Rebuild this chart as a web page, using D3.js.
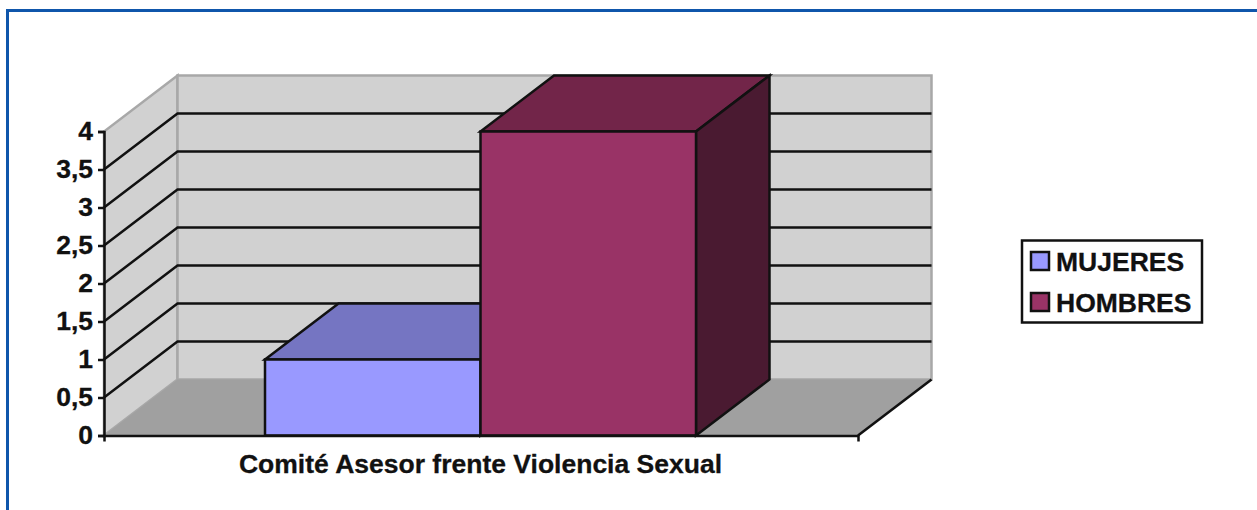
<!DOCTYPE html>
<html><head><meta charset="utf-8">
<script src="https://cdn.jsdelivr.net/npm/d3@7/dist/d3.min.js"></script>
<style>html,body{margin:0;padding:0;background:#fff}svg{display:block}text{font-family:"Liberation Sans",Arial,sans-serif;font-weight:700;fill:#111;stroke:#111;stroke-width:0.3px}</style>
</head><body><svg id="c" width="1257" height="510"></svg>
<script>
const categories = ["Comité Asesor frente Violencia Sexual"];
const seriesNames = ["MUJERES","HOMBRES"];
const seriesValues = [1,4];
const frontColors = ["#9999ff","#993366"];
const topColors = ["#7575c2","#722549"];
const sideColors = ["#5a5a99","#4a1a31"];
const yTicks = [0,0.5,1,1.5,2,2.5,3,3.5,4];

const svg = d3.select("#c");
const dx = 73.5, dy = -56;
const y = d3.scaleLinear().domain([0,4]).range([435.5,131.5]);
const x = d3.scaleBand().domain(categories).range([104,858]);
const inner = d3.scaleBand().domain(seriesNames).range([x(categories[0])+161, x(categories[0])+592]);
const line = d3.line();
const back = ([a,b]) => [a+dx,b+dy];
const poly = (pts,fill,stroke,sw) => svg.append("path").attr("d",line(pts)+"Z").attr("fill",fill).attr("stroke",stroke||"none").attr("stroke-width",sw||0).attr("stroke-linejoin","miter");

// frame
svg.append("path").attr("d","M7.5,510V10.5H1257").attr("fill","none").attr("stroke","#0f56ab").attr("stroke-width",3);

const x0=x.range()[0], x1=x.range()[1], yb=y(0), yt=y(4);
// walls
poly([[x0,yb],[x0,yt],back([x0,yt]),back([x0,yb])],"#d1d1d1","#a8a8a8",2.5);
poly([back([x0,yb]),back([x0,yt]),back([x1,yt]),back([x1,yb])],"#d1d1d1","#a8a8a8",2.5);
poly([[x0,yb],back([x0,yb]),back([x1,yb]),[x1,yb]],"#a0a0a0");

// gridlines
yTicks.filter(t=>t>0&&t<4).forEach(t=>{
  svg.append("path").attr("d",line([[x0,y(t)],back([x0,y(t)]),back([x1,y(t)])])).attr("fill","none").attr("stroke","#111").attr("stroke-width",2.5);
});
// right floor edge
svg.append("path").attr("d",line([[x1,yb],back([x1,yb])])).attr("stroke","#111").attr("stroke-width",2.5);

// bars
seriesNames.forEach((s,i)=>{
  const l=inner(s), r=l+inner.bandwidth(), t=y(seriesValues[i]), b=y(0);
  poly([[l,t],back([l,t]),back([r,t]),[r,t]],topColors[i],"#111",2.5);
  poly([[r,t],back([r,t]),back([r,b]),[r,b]],sideColors[i],"#111",2.5);
  poly([[l,t],[r,t],[r,b],[l,b]],frontColors[i],"#111",2.5);
});

// axes
const yAxis = d3.axisLeft(y).tickValues(yTicks).tickSize(6).tickPadding(5).tickFormat(d=>String(d).replace(".",","));
const gy = svg.append("g").attr("transform","translate(104,0)").call(yAxis);
gy.selectAll("path,line").attr("stroke","#111").attr("stroke-width",2.5);
gy.selectAll("text").style("font-size","26.5px").attr("fill","#111");

const xAxis = d3.axisBottom(x).tickValues([]).tickSize(6);
const gx = svg.append("g").attr("transform",`translate(0,${yb})`).call(xAxis);
gx.selectAll("path").attr("stroke","#111").attr("stroke-width",2.5);
svg.append("text").attr("x",480.5).attr("y",472.5).attr("text-anchor","middle").style("font-size","26.5px").text(categories[0]);

// legend
svg.append("rect").attr("x",1022).attr("y",240.5).attr("width",180).attr("height",82).attr("fill","#fff").attr("stroke","#111").attr("stroke-width",2.5);
seriesNames.forEach((s,i)=>{
  const yy=[261,302][i];
  svg.append("rect").attr("x",1031).attr("y",yy-9).attr("width",18).attr("height",18).attr("fill",frontColors[i]).attr("stroke","#111").attr("stroke-width",2.5);
  svg.append("text").attr("x",1056).attr("y",yy+9.5).style("font-size","26.5px").text(s);
});
</script></body></html>
